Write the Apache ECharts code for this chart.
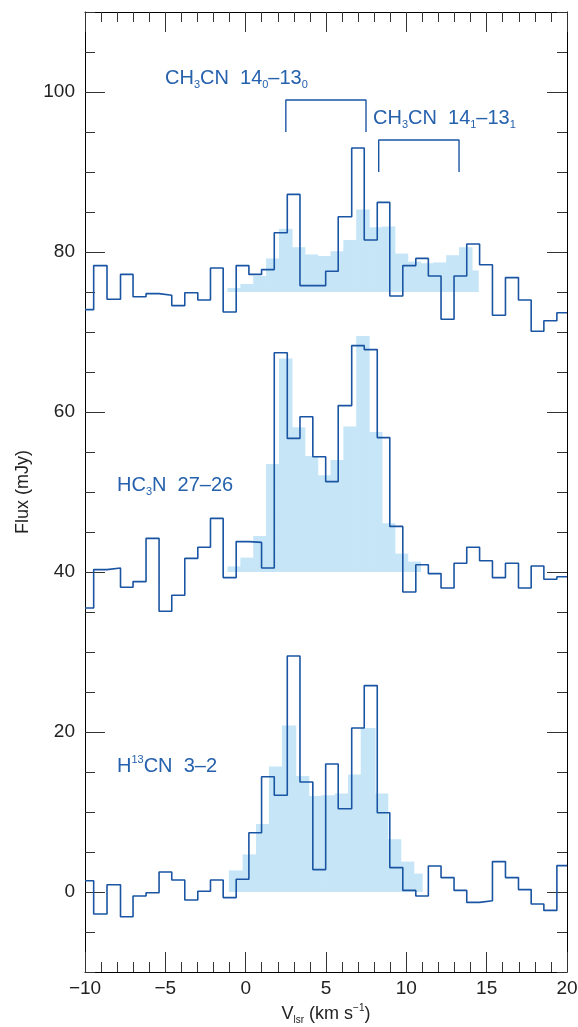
<!DOCTYPE html>
<html>
<head>
<meta charset="utf-8">
<script src="https://cdn.jsdelivr.net/npm/echarts@6/dist/echarts.min.js"></script>
<style>
html,body{margin:0;padding:0;background:#fff;}
#chart{width:578px;height:1027px;}
</style>
</head>
<body>
<div id="chart"></div>
<script>
// Channel edges (km/s) of the observed spectra
const channelEdges = [-10, -9.46, -8.63, -7.79, -7.01, -6.20, -5.39, -4.60, -3.79, -2.98, -2.19, -1.40, -0.59, 0.20, 0.99, 1.78, 2.59, 3.38, 4.18, 4.98, 5.76, 6.60, 7.38, 8.19, 8.97, 9.78, 10.59, 11.37, 12.16, 12.97, 13.76, 14.56, 15.36, 16.17, 16.98, 17.77, 18.56, 19.37, 20];
// Observed flux (mJy), offset spectra
const ch3cnFlux = [72.8, 78.3, 74.1, 77.2, 74.4, 74.8, 74.6, 73.3, 74.9, 74.0, 78.0, 72.5, 78.3, 77.2, 77.8, 82.4, 87.2, 75.8, 75.8, 77.6, 84.4, 93.0, 81.5, 86.2, 74.5, 78.3, 79.2, 77.0, 71.6, 77.0, 81.0, 78.4, 72.1, 76.8, 74.0, 70.1, 71.4, 72.4];
const hc3nFlux = [35.5, 40.3, 40.5, 38.1, 38.8, 44.2, 35.1, 37.1, 41.7, 43.1, 46.7, 39.3, 43.8, 43.7, 40.5, 67.4, 56.7, 59.4, 54.4, 51.3, 60.8, 68.3, 67.8, 56.8, 45.7, 37.5, 40.9, 39.8, 38.0, 41.1, 43.1, 41.4, 39.3, 41.1, 38.0, 40.75, 39.1, 39.4];
const h13cnFlux = [1.4, -2.75, 0.9, -3.1, -0.5, -0.1, 2.5, 1.5, -1.0, 0.1, 1.5, -0.7, 1.6, 7.4, 14.4, 12.1, 29.5, 13.75, 2.8, 16.0, 10.4, 20.5, 25.8, 9.9, 3.05, 0.2, -0.5, 3.25, 1.8, 0.2, -1.3, -1.1, 3.8, 1.8, 0.3, -1.5, -2.3, 3.3];

// Shaded (model / comparison) spectra
const shadeEdgesA = [-1.13, -0.33, 0.47, 1.27, 2.07, 2.88, 3.68, 4.48, 5.28, 6.08, 6.88, 7.68, 8.48, 9.28, 10.08, 10.88, 11.68, 12.48, 13.28, 14.08, 14.47];
const ch3cnShade = [75.5, 76.0, 77.0, 79.2, 82.9, 80.6, 79.7, 79.5, 80.1, 81.5, 85.3, 83.1, 83.2, 79.8, 78.8, 78.6, 78.7, 79.6, 80.6, 77.7];
const ch3cnBase = 75;
const hc3nShade = [40.7, 41.8, 44.5, 53.5, 66.7, 58.1, 54.5, 52.1, 54.0, 58.2, 69.5, 57.5, 46.1, 42.3, 41.3];
const hc3nBase = 40;
const shadeEdgesB = [-1.05, -0.19, 0.64, 1.45, 2.26, 3.11, 3.92, 4.70, 5.56, 6.37, 7.16, 8.05, 8.84, 9.65, 10.46, 10.98];
const h13cnShade = [2.7, 4.7, 8.5, 15.7, 20.8, 14.5, 12.0, 12.1, 12.3, 14.7, 20.5, 12.3, 6.6, 3.8, 2.3];
const h13cnBase = 0;

// Line-group brackets: [v start, v end, top flux, foot flux]
const bracketK0 = [2.50, 7.49, 99, 95];
const bracketK1 = [8.28, 13.28, 94, 90];

// Axis ticks
const yLabelTicks = [0, 20, 40, 60, 80, 100];
const xRange = [-10, 20];
const yRange = [-10, 110];

const LINE = '#1a55a3';
const TEXTBLUE = '#2561ad';
const SHADE = '#c6e6f8';
const FONT = '"Liberation Sans", Arial, sans-serif';

function stepData(edges, vals) {
  const d = vals.map((v, i) => [edges[i], v]);
  d.push([edges[vals.length], vals[vals.length - 1]]);
  return d;
}
function shadeData(edges, vals, base) {
  return vals.map((v, i) => [edges[i], edges[i + 1], v, base]);
}
function bracketData(b) {
  return [[b[0], b[3]], [b[0], b[2]], [b[1], b[2]], [b[1], b[3]]];
}
function renderBar(params, api) {
  const p0 = api.coord([api.value(0), api.value(2)]);
  const p1 = api.coord([api.value(1), api.value(3)]);
  return {
    type: 'rect',
    shape: { x: p0[0], y: p0[1], width: p1[0] - p0[0] + 0.6, height: p1[1] - p0[1] },
    style: { fill: SHADE }
  };
}
const minus = v => String(v).replace('-', '\u2212');

const chart = echarts.init(document.getElementById('chart'), null, { renderer: 'canvas' });

const tickStyle = { color: '#333', width: 1 };
const frameLine = { show: true, onZero: false, lineStyle: { color: '#000', width: 1 } };
const noLine = { show: false, onZero: false };

const subRich = {
  n: { fontSize: 20, lineHeight: 24, fill: TEXTBLUE, fontFamily: FONT },
  s: { fontSize: 11, lineHeight: 6, verticalAlign: 'bottom', fill: TEXTBLUE, fontFamily: FONT },
  p: { fontSize: 11, lineHeight: 15, verticalAlign: 'top', fill: TEXTBLUE, fontFamily: FONT }
};

const option = {
  animation: false,
  textStyle: { fontFamily: FONT },
  grid: { left: 85, right: 11, top: 12, bottom: 55, containLabel: false, outerBoundsMode: 'none' },
  xAxis: [
    {
      type: 'value', position: 'bottom', min: xRange[0], max: xRange[1], interval: 5,
      axisLine: frameLine,
      axisTick: { show: true, inside: true, length: 20, lineStyle: tickStyle },
      minorTick: { show: true, splitNumber: 5, length: 10, lineStyle: tickStyle },
      axisLabel: { fontSize: 19, color: '#222', margin: 7, formatter: minus },
      splitLine: { show: false },
      name: '{m|V}{s|lsr}{m| (km s}{p|\u22121}{m|)}',
      nameLocation: 'middle', nameGap: 31,
      nameTextStyle: {
        rich: {
          m: { fontSize: 18, lineHeight: 22, color: '#222', fontFamily: FONT },
          s: { fontSize: 10, lineHeight: 5, verticalAlign: 'bottom', color: '#222', fontFamily: FONT },
          p: { fontSize: 10, lineHeight: 14, verticalAlign: 'top', color: '#222', fontFamily: FONT }
        }
      }
    },
    {
      type: 'value', position: 'top', min: xRange[0], max: xRange[1], interval: 5,
      axisLine: frameLine,
      axisTick: { show: true, inside: true, length: 20, lineStyle: tickStyle },
      minorTick: { show: true, splitNumber: 5, length: 10, lineStyle: tickStyle },
      axisLabel: { show: false },
      splitLine: { show: false }
    }
  ],
  yAxis: [
    {
      type: 'value', position: 'left', min: yRange[0], max: yRange[1], interval: 5,
      axisLine: frameLine,
      axisTick: { show: true, inside: true, length: 20, lineStyle: tickStyle, customValues: yLabelTicks },
      axisLabel: { fontSize: 19, color: '#222', margin: 10, customValues: yLabelTicks, formatter: minus },
      splitLine: { show: false },
      name: 'Flux (mJy)', nameLocation: 'middle', nameGap: 53, nameRotate: 90,
      nameTextStyle: { fontSize: 18, color: '#222', fontFamily: FONT }
    },
    {
      type: 'value', position: 'left', min: yRange[0], max: yRange[1], interval: 5,
      axisLine: noLine,
      axisTick: { show: true, inside: true, length: 10, lineStyle: tickStyle },
      axisLabel: { show: false },
      splitLine: { show: false }
    },
    {
      type: 'value', position: 'right', min: yRange[0], max: yRange[1], interval: 5,
      axisLine: frameLine,
      axisTick: { show: true, inside: true, length: 20, lineStyle: tickStyle, customValues: yLabelTicks },
      axisLabel: { show: false },
      splitLine: { show: false }
    },
    {
      type: 'value', position: 'right', min: yRange[0], max: yRange[1], interval: 5,
      axisLine: noLine,
      axisTick: { show: true, inside: true, length: 10, lineStyle: tickStyle },
      axisLabel: { show: false },
      splitLine: { show: false }
    }
  ],
  series: [
    { type: 'custom', renderItem: renderBar, data: shadeData(shadeEdgesA, ch3cnShade, ch3cnBase), encode: { x: [0, 1], y: [2, 3] }, z: 1, silent: true },
    { type: 'custom', renderItem: renderBar, data: shadeData(shadeEdgesA, hc3nShade, hc3nBase), encode: { x: [0, 1], y: [2, 3] }, z: 1, silent: true },
    { type: 'custom', renderItem: renderBar, data: shadeData(shadeEdgesB, h13cnShade, h13cnBase), encode: { x: [0, 1], y: [2, 3] }, z: 1, silent: true },
    { type: 'line', step: 'end', data: stepData(channelEdges, ch3cnFlux), showSymbol: false, symbol: 'none', lineStyle: { color: LINE, width: 1.6 }, z: 3 },
    { type: 'line', step: 'end', data: stepData(channelEdges, hc3nFlux), showSymbol: false, symbol: 'none', lineStyle: { color: LINE, width: 1.6 }, z: 3 },
    { type: 'line', step: 'end', data: stepData(channelEdges, h13cnFlux), showSymbol: false, symbol: 'none', lineStyle: { color: LINE, width: 1.6 }, z: 3 },
    { type: 'line', data: bracketData(bracketK0), showSymbol: false, symbol: 'none', lineStyle: { color: LINE, width: 1.4 }, z: 3 },
    { type: 'line', data: bracketData(bracketK1), showSymbol: false, symbol: 'none', lineStyle: { color: LINE, width: 1.4 }, z: 3 }
  ],
  graphic: [
    { type: 'text', x: 165, y: 78, z: 10, style: { text: '{n|CH}{s|3}{n|CN  14}{s|0}{n|\u201313}{s|0}', rich: subRich, fill: TEXTBLUE, verticalAlign: 'middle' } },
    { type: 'text', x: 373, y: 118, z: 10, style: { text: '{n|CH}{s|3}{n|CN  14}{s|1}{n|\u201313}{s|1}', rich: subRich, fill: TEXTBLUE, verticalAlign: 'middle' } },
    { type: 'text', x: 117, y: 485, z: 10, style: { text: '{n|HC}{s|3}{n|N  27\u201326}', rich: subRich, fill: TEXTBLUE, verticalAlign: 'middle' } },
    { type: 'text', x: 117, y: 766, z: 10, style: { text: '{n|H}{p|13}{n|CN  3\u20132}', rich: subRich, fill: TEXTBLUE, verticalAlign: 'middle' } }
  ]
};
chart.setOption(option);
</script>
</body>
</html>
